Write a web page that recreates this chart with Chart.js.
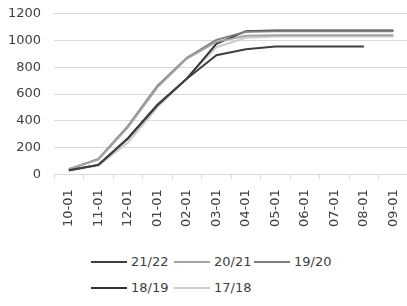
<!DOCTYPE html>
<html lang="en">
<head>
    <meta charset="UTF-8">
    <title>Chart</title>
    <style>
        body { margin: 0; background: #fff; font-family: "DejaVu Sans", sans-serif; }
        #wrap { position: relative; width: 407px; height: 306px; overflow: hidden; }
        #box { position: absolute; left: -12px; top: -7px; width: 431px; height: 250px; }
        #legend { position: absolute; left: 91px; top: 252px; width: 300px; }
        .item { position: absolute; height: 20px; font-size: 13px; color: #404040; white-space: nowrap; }
        .item span.ln { position: absolute; left: 0; top: 9px; width: 36px; height: 2px; }
        .item span.tx { position: absolute; left: 40px; top: 2px; }
    </style>
</head>
<body>
<div id="wrap">
    <div id="box"><canvas id="mychart"></canvas></div>
    <div id="legend"></div>
</div>
<script src="https://cdn.jsdelivr.net/npm/chart.js"></script>
<script>
    var months = ['10-01', '11-01', '12-01', '01-01', '02-01', '03-01', '04-01', '05-01', '06-01', '07-01', '08-01', '09-01'];
    var yTicks = [0, 200, 400, 600, 800, 1000, 1200];

    var s2122 = [30, 70, 265, 515, 715, 890, 935, 955, 955, 955, 955, null];
    var s2021 = [40, 110, 350, 650, 865, 990, 1035, 1040, 1040, 1040, 1040, 1040];
    var s1920 = [35, 115, 360, 660, 870, 1005, 1065, 1070, 1070, 1070, 1070, 1070];
    var s1819 = [30, 70, 270, 520, 715, 975, 1070, 1075, 1075, 1075, 1075, 1075];
    var s1718 = [25, 65, 235, 500, 720, 950, 1020, 1030, 1030, 1030, 1030, 1030];

    var seriesNames = ['21/22', '20/21', '19/20', '18/19', '17/18'];
    var seriesData = [s2122, s2021, s1920, s1819, s1718];
    var seriesColors = ['#3f3f3f', '#a3a3a3', '#808080', '#333333', '#cccccc'];

    var datasets = seriesNames.map(function (name, i) {
        return {
            label: name,
            data: seriesData[i],
            borderColor: seriesColors[i],
            backgroundColor: seriesColors[i],
            borderWidth: 2,
            pointRadius: 0,
            tension: 0,
            spanGaps: false
        };
    });

    var ctx = document.getElementById('mychart').getContext('2d');
    new Chart(ctx, {
        type: 'line',
        data: { labels: months, datasets: datasets },
        options: {
            responsive: true,
            maintainAspectRatio: false,
            animation: false,
            layout: { padding: { left: 7, right: 0, top: 0, bottom: 6 } },
            plugins: { legend: { display: false }, tooltip: { enabled: false } },
            scales: {
                x: {
                    offset: true,
                    grid: { display: true, drawOnChartArea: false, offset: true, tickLength: 5, color: '#d9d9d9' },
                    border: { display: true, color: '#d9d9d9' },
                    ticks: {
                        minRotation: 90, maxRotation: 90, padding: 10, autoSkip: false,
                        color: '#404040', font: { family: 'DejaVu Sans', size: 13 }
                    }
                },
                y: {
                    min: 0, max: 1200,
                    afterBuildTicks: function (axis) { axis.ticks = yTicks.map(function (v) { return { value: v }; }); },
                    grid: { color: '#d9d9d9', drawTicks: false },
                    border: { display: false },
                    ticks: {
                        padding: 13, color: '#404040', font: { family: 'DejaVu Sans', size: 13 },
                        callback: function (v) { return String(v); }
                    }
                }
            }
        }
    });

    // legend laid out like the original, three per row
    var legend = document.getElementById('legend');
    var colX = [0, 83, 163];
    seriesNames.forEach(function (name, i) {
        var d = document.createElement('div');
        d.className = 'item';
        d.style.left = colX[i % 3] + 'px';
        d.style.top = (Math.floor(i / 3) * 26) + 'px';
        d.innerHTML = '<span class="ln" style="background:' + seriesColors[i] + '"></span><span class="tx">' + name + '</span>';
        legend.appendChild(d);
    });
</script>
</body>
</html>
